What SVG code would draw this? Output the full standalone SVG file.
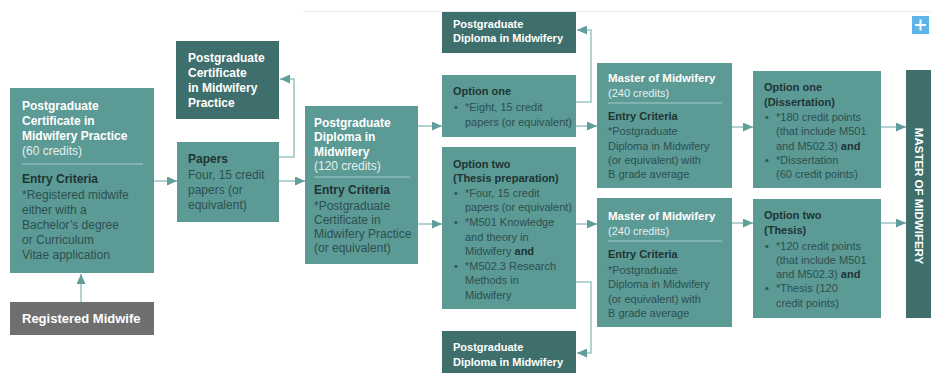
<svg xmlns="http://www.w3.org/2000/svg" width="931" height="374" viewBox="0 0 931 374">
<defs>
<style>
text{font-family:"Liberation Sans",Arial,sans-serif;}
.box{fill:#5c9a96;}
.dark{fill:#3e6f6c;}
.grey{fill:#6f6f6f;}
.tw{fill:#ffffff;font-weight:bold;font-size:12px;}
.tw11{fill:#ffffff;font-weight:bold;font-size:11px;}
.tw115{fill:#ffffff;font-weight:bold;font-size:11.5px;}
.cr{fill:#e4efee;font-size:12px;}
.cr11{fill:#e4efee;font-size:11px;}
.h{fill:#1d3533;font-weight:bold;font-size:12px;}
.h11{fill:#1d3533;font-weight:bold;font-size:11px;}
.b{fill:#2d504e;font-size:12px;}
.b11{fill:#2d504e;font-size:11px;}
.and{fill:#1d3533;font-weight:bold;}
.div{stroke:#a3ccc8;stroke-width:1.2;}
.con{fill:none;stroke:#9ac5c1;stroke-width:1.5;marker-end:url(#ah);}
</style>
<marker id="ah" markerUnits="userSpaceOnUse" markerWidth="11" markerHeight="9" refX="10" refY="4.5" orient="auto">
<path d="M0,0 L10,4.5 L0,9 z" fill="#5f9e9a"/>
</marker>
</defs>
<rect width="931" height="374" fill="#ffffff"/>
<line x1="303" y1="11.5" x2="931" y2="11.5" stroke="#ececec" stroke-width="1"/>

<g id="plus">
<rect x="912" y="16" width="17" height="18" fill="#5cb5e6"/>
<path d="M920.5,19.5 V30.5 M915,25 H926" stroke="#ffffff" stroke-width="2"/>
</g>

<g id="connectors">
<path class="con" d="M81,302 V274"/>
<path class="con" d="M154,181 H177"/>
<path class="con" d="M279,181 H305"/>
<path class="con" d="M279,157 H294 V79 H280"/>
<path class="con" d="M418,126 H442"/>
<path class="con" d="M418,224 H442"/>
<path class="con" d="M576,102 H591 V30 H577"/>
<path class="con" d="M576,282 H591 V353 H577"/>
<path class="con" d="M576,126 H597"/>
<path class="con" d="M576,224 H597"/>
<path class="con" d="M732,127 H753"/>
<path class="con" d="M732,223 H753"/>
<path class="con" d="M881,127 H906"/>
<path class="con" d="M881,223 H906"/>
</g>

<g id="pgcert-entry">
<rect class="box" x="10" y="88" width="144" height="185"/>
<text class="tw" x="22" y="110">Postgraduate</text>
<text class="tw" x="22" y="125">Certificate in</text>
<text class="tw" x="22" y="140">Midwifery Practice</text>
<text class="cr" x="22" y="155">(60 credits)</text>
<line class="div" x1="22" y1="164" x2="143" y2="164"/>
<text class="h" x="22" y="183">Entry Criteria</text>
<text class="b" x="22" y="199">*Registered midwife</text>
<text class="b" x="22" y="214">either with a</text>
<text class="b" x="22" y="229">Bachelor’s degree</text>
<text class="b" x="22" y="244">or Curriculum</text>
<text class="b" x="22" y="259">Vitae application</text>
</g>

<g id="registered-midwife">
<rect class="grey" x="10" y="302" width="144" height="33"/>
<text x="22" y="323" style="fill:#ffffff;font-weight:bold;font-size:13px;">Registered Midwife</text>
</g>

<g id="pgcert-exit">
<rect class="dark" x="176" y="41" width="103" height="78"/>
<text class="tw" x="188" y="62">Postgraduate</text>
<text class="tw" x="188" y="77">Certificate</text>
<text class="tw" x="188" y="92">in Midwifery</text>
<text class="tw" x="188" y="107">Practice</text>
</g>

<g id="papers">
<rect class="box" x="177" y="142" width="102" height="80"/>
<text class="h" x="188" y="163">Papers</text>
<text class="b" x="188" y="179">Four, 15 credit</text>
<text class="b" x="188" y="194">papers (or</text>
<text class="b" x="188" y="209">equivalent)</text>
</g>

<g id="pgdip-entry">
<rect class="box" x="305" y="106" width="113" height="158"/>
<text class="tw" x="314" y="127">Postgraduate</text>
<text class="tw" x="314" y="141">Diploma in</text>
<text class="tw" x="314" y="156">Midwifery</text>
<text class="cr" x="314" y="170">(120 credits)</text>
<line class="div" x1="314" y1="177" x2="410" y2="177"/>
<text class="h" x="314" y="194">Entry Criteria</text>
<text class="b" x="314" y="210">*Postgraduate</text>
<text class="b" x="314" y="224">Certificate in</text>
<text class="b" x="314" y="238">Midwifery Practice</text>
<text class="b" x="314" y="252">(or equivalent)</text>
</g>

<g id="pgdip-exit-top">
<rect class="dark" x="442" y="12" width="134" height="41"/>
<text class="tw11" x="453" y="28">Postgraduate</text>
<text class="tw11" x="453" y="42">Diploma in Midwifery</text>
</g>

<g id="option-one">
<rect class="box" x="442" y="75" width="134" height="62"/>
<text class="h11" x="453" y="95">Option one</text>
<text class="b11" x="454" y="111">•</text>
<text class="b11" x="465" y="111">*Eight, 15 credit</text>
<text class="b11" x="465" y="126">papers (or equivalent)</text>
</g>

<g id="option-two">
<rect class="box" x="442" y="147" width="134" height="162"/>
<text class="h11" x="453" y="168">Option two</text>
<text class="h11" x="453" y="182">(Thesis preparation)</text>
<text class="b11" x="454" y="197">•</text>
<text class="b11" x="465" y="197">*Four, 15 credit</text>
<text class="b11" x="465" y="211">papers (or equivalent)</text>
<text class="b11" x="454" y="226">•</text>
<text class="b11" x="465" y="226">*M501 Knowledge</text>
<text class="b11" x="465" y="241">and theory in</text>
<text class="b11" x="465" y="255">Midwifery <tspan class="and">and</tspan></text>
<text class="b11" x="454" y="270">•</text>
<text class="b11" x="465" y="270">*M502.3 Research</text>
<text class="b11" x="465" y="284">Methods in</text>
<text class="b11" x="465" y="299">Midwifery</text>
</g>

<g id="pgdip-exit-bottom">
<rect class="dark" x="442" y="331" width="134" height="42"/>
<text class="tw11" x="453" y="351">Postgraduate</text>
<text class="tw11" x="453" y="366">Diploma in Midwifery</text>
</g>

<g id="master-one">
<rect class="box" x="597" y="63" width="135" height="125"/>
<text class="tw115" x="608" y="82">Master of Midwifery</text>
<text class="cr11" x="608" y="97">(240 credits)</text>
<line class="div" x1="608" y1="103" x2="722" y2="103"/>
<text class="h11" x="608" y="120">Entry Criteria</text>
<text class="b11" x="608" y="135">*Postgraduate</text>
<text class="b11" x="608" y="150">Diploma in Midwifery</text>
<text class="b11" x="608" y="164">(or equivalent) with</text>
<text class="b11" x="608" y="178">B grade average</text>
</g>

<g id="master-two">
<rect class="box" x="597" y="198" width="135" height="129"/>
<text class="tw115" x="608" y="220">Master of Midwifery</text>
<text class="cr11" x="608" y="235">(240 credits)</text>
<line class="div" x1="608" y1="241" x2="722" y2="241"/>
<text class="h11" x="608" y="258">Entry Criteria</text>
<text class="b11" x="608" y="274">*Postgraduate</text>
<text class="b11" x="608" y="288">Diploma in Midwifery</text>
<text class="b11" x="608" y="303">(or equivalent) with</text>
<text class="b11" x="608" y="317">B grade average</text>
</g>

<g id="dissertation">
<rect class="box" x="753" y="71" width="128" height="117"/>
<text class="h11" x="764" y="91">Option one</text>
<text class="h11" x="764" y="106">(Dissertation)</text>
<text class="b11" x="765" y="121">•</text>
<text class="b11" x="776" y="121">*180 credit points</text>
<text class="b11" x="776" y="135">(that include M501</text>
<text class="b11" x="776" y="150">and M502.3) <tspan class="and">and</tspan></text>
<text class="b11" x="765" y="164">•</text>
<text class="b11" x="776" y="164">*Dissertation</text>
<text class="b11" x="776" y="178">(60 credit points)</text>
</g>

<g id="thesis">
<rect class="box" x="753" y="199" width="128" height="119"/>
<text class="h11" x="764" y="219">Option two</text>
<text class="h11" x="764" y="234">(Thesis)</text>
<text class="b11" x="765" y="250">•</text>
<text class="b11" x="776" y="250">*120 credit points</text>
<text class="b11" x="776" y="264">(that include M501</text>
<text class="b11" x="776" y="278">and M502.3) <tspan class="and">and</tspan></text>
<text class="b11" x="765" y="292">•</text>
<text class="b11" x="776" y="292">*Thesis (120</text>
<text class="b11" x="776" y="307">credit points)</text>
</g>

<g id="master-of-midwifery">
<rect class="dark" x="906" y="70" width="25" height="248"/>
<text transform="translate(914.5,196) rotate(90)" text-anchor="middle" style="fill:#ffffff;font-weight:bold;font-size:11.5px;">MASTER OF MIDWIFERY</text>
</g>
</svg>
